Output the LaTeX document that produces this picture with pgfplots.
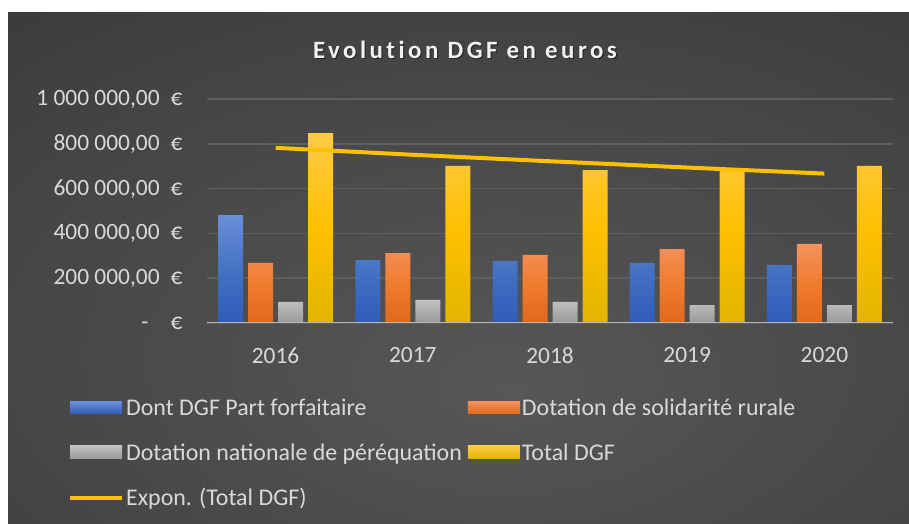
\documentclass[border=0pt]{standalone}
\usepackage{pgfplots}
\pgfplotsset{compat=1.18}
\usepackage{fontspec}
\setmainfont{Carlito}
\newfontfamily\titlefont[LetterSpace=14, RawFeature=-liga]{Carlito}

\definecolor{bgC}{HTML}{575757}
\definecolor{bgM}{HTML}{444444}
\definecolor{bgE}{HTML}{222222}
\definecolor{txt}{HTML}{D9D9D9}
\definecolor{gridC}{HTML}{5E5E5E}
\definecolor{baseC}{HTML}{B5B5B5}
\definecolor{blueT}{HTML}{6A8FD8}
\definecolor{blueM}{HTML}{4472C4}
\definecolor{blueB}{HTML}{2F5CB8}
\definecolor{orT}{HTML}{F3925E}
\definecolor{orM}{HTML}{F07C2E}
\definecolor{orB}{HTML}{E0681A}
\definecolor{grT}{HTML}{C2C2C2}
\definecolor{grM}{HTML}{ADADAD}
\definecolor{grB}{HTML}{9A9A9A}
\definecolor{yeT}{HTML}{FFCA48}
\definecolor{yeM}{HTML}{FFC000}
\definecolor{yeB}{HTML}{E2B400}
\definecolor{trend}{HTML}{FFC000}

\pgfdeclareradialshading{bgshade}{\pgfpoint{3bp}{-12bp}}{color(0bp)=(bgC); color(30bp)=(bgM); color(72bp)=(bgE); color(80bp)=(bgE)}

% values (euros)
\pgfplotstableread{
x  forf    dsr     dnp    total
0  482000  268000  94000  848000
1  281000  312000  103000 701000
2  277000  304000  94000  683000
3  268000  330000  80000  686000
4  259000  353000  80000  701000
}\dgf
\pgfplotstableread{
x  expo
0  782000
1  751000
2  722000
3  694000
4  667000
}\trendtab

\begin{document}
\begin{tikzpicture}
\useasboundingbox (0,0) rectangle (909bp,524bp);
\fill[white] (0,0) rectangle (909bp,524bp);
\shade[shading=bgshade] (8bp,0) rectangle (909bp,511bp);

\node[text=black, opacity=0.5] at (466bp,473bp) {\titlefont\bfseries\fontsize{25}{30}\selectfont Evolution DGF en euros};
\node[text=white!95!black] at (465bp,474bp) {\titlefont\bfseries\fontsize{25}{30}\selectfont Evolution DGF en euros};

\begin{axis}[
    at={(207bp,201bp)}, anchor=south west,
    scale only axis, width=686bp, height=224bp,
    xmin=-0.5, xmax=4.5, ymin=0, ymax=1000000,
    ybar=5bp, bar width=25bp,
    axis line style={draw=none},
    tick style={draw=none},
    ymajorgrids, major grid style={gridC, line width=1.6bp},
    scaled y ticks=false,
    ytick={0,200000,400000,600000,800000,1000000},
    yticklabels={{-\hspace{22bp}€},{200 000,00\hspace{11bp}€},{400 000,00\hspace{11bp}€},{600 000,00\hspace{11bp}€},{800 000,00\hspace{11bp}€},{1 000 000,00\hspace{11bp}€}},
    xtick={0,1,2,3,4},
    xticklabels={2016,2017,2018,2019,2020},
    tick label style={text=txt, font=\fontsize{23.5}{28}\selectfont},
    yticklabel style={xshift=-21bp},
    xticklabel style={yshift=-17bp},
    legend columns=2,
    legend cell align=left,
    legend style={at={(-0.207,-0.32)}, anchor=north west, draw=none, fill=none,
        text=txt, font=\fontsize{24}{28}\selectfont,
        row sep=22.5bp, /tikz/every even column/.append style={column sep=4bp}},
]
\addplot[draw=none, top color=blueT, bottom color=blueB, middle color=blueM,
    legend image code/.code={\fill[top color=blueT, bottom color=blueB] (0bp,-6bp) rectangle (52bp,6.5bp);}]
    table[x=x, y=forf] {\dgf};
\addlegendentry{Dont DGF Part forfaitaire}
\addplot[draw=none, top color=orT, bottom color=orB, middle color=orM,
    legend image code/.code={\fill[top color=orT, bottom color=orB] (0bp,-6bp) rectangle (52bp,6.5bp);}]
    table[x=x, y=dsr] {\dgf};
\addlegendentry{Dotation de solidarité rurale}
\addplot[draw=none, top color=grT, bottom color=grB, middle color=grM,
    legend image code/.code={\fill[top color=grT, bottom color=grB] (0bp,-6bp) rectangle (52bp,6.5bp);}]
    table[x=x, y=dnp] {\dgf};
\addlegendentry{Dotation nationale de péréquation}
\addplot[draw=none, top color=yeT, bottom color=yeB, middle color=yeM,
    legend image code/.code={\fill[top color=yeT, bottom color=yeB] (0bp,-6bp) rectangle (52bp,6.5bp);}]
    table[x=x, y=total] {\dgf};
\addlegendentry{Total DGF}
\addplot[sharp plot, no marks, trend, line width=4bp,
    legend image code/.code={\draw[trend, line width=4bp] (0bp,0bp) -- (52bp,0bp);}]
    table[x=x, y=expo] {\trendtab};
\addlegendentry{Expon. (Total DGF)}
\draw[baseC, line width=2.7bp] (rel axis cs:0,0) -- (rel axis cs:1,0);
\end{axis}
\end{tikzpicture}
\end{document}
